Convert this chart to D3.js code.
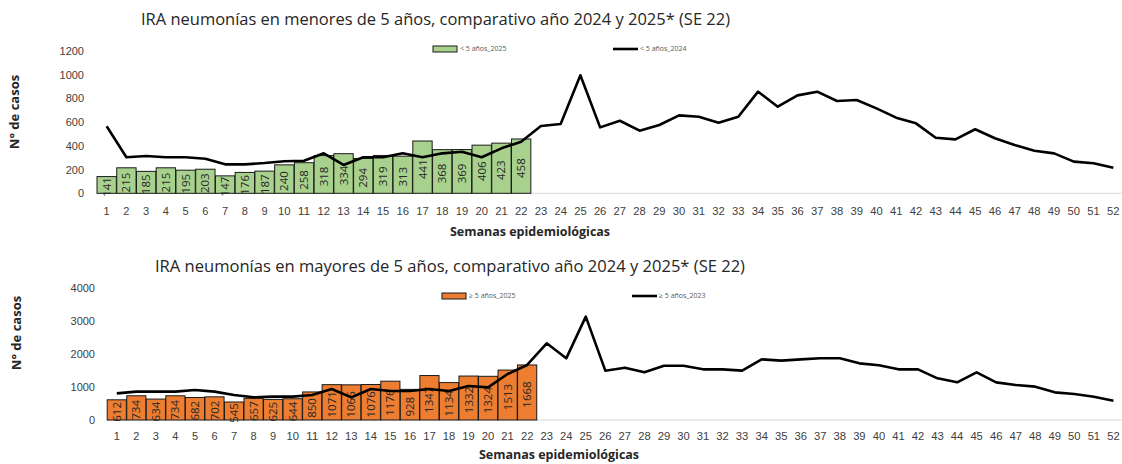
<!DOCTYPE html>
<html>
<head>
<meta charset="utf-8">
<script src="https://cdn.jsdelivr.net/npm/d3@7"></script>
<style>
  body { margin: 0; background: #fff; }
  svg { display: block; font-family: "Open Sans", "Noto Sans", sans-serif; }
</style>
</head>
<body>
<svg id="chart" width="1122" height="464"></svg>
<script>
const weeks = d3.range(1, 53);

// menores de 5 años
const under5_2025 = [141, 215, 185, 215, 195, 203, 147, 176, 187, 240, 258, 318, 334, 294, 319, 313, 441, 368, 369, 406, 423, 458];
const under5_2024 = [565, 304, 314, 304, 304, 292, 244, 244, 255, 270, 275, 337, 239, 304, 304, 337, 304, 337, 351, 304, 379, 435,
    567, 584, 995, 556, 612, 528, 576, 657, 646, 595, 646, 857, 730, 826, 857, 778, 787, 716, 638, 590, 469, 455, 540, 464,
    407, 359, 337, 267, 253, 216];

// mayores de 5 años
const over5_2025 = [612, 734, 634, 734, 682, 702, 545, 657, 625, 644, 850, 1071, 1066, 1076, 1176, 928, 1347, 1134, 1332, 1324, 1513, 1668];
const over5_2023 = [808, 859, 859, 859, 909, 859, 758, 687, 707, 707, 758, 939, 687, 939, 879, 879, 939, 879, 1030, 990, 1394, 1667,
    2323, 1869, 3131, 1495, 1586, 1444, 1646, 1646, 1535, 1535, 1495, 1838, 1798, 1838, 1869, 1869, 1717, 1657, 1535, 1535,
    1263, 1141, 1444, 1141, 1061, 1010, 838, 788, 707, 586];

const svg = d3.select('#chart');

function drawChart(cfg) {
    const g = svg.append('g');

    const x = d3.scaleBand().domain(weeks).range([cfg.x0, cfg.x1]).paddingInner(0.02).paddingOuter(0);
    const y = d3.scaleLinear().domain([0, cfg.yMax]).range([cfg.y0, cfg.y1]);

    // title
    g.append('text')
        .attr('x', cfg.titleX).attr('y', cfg.titleY)
        .attr('font-size', 16.5).attr('fill', '#262626')
        .attr('textLength', cfg.titleW).attr('lengthAdjust', 'spacingAndGlyphs')
        .text(cfg.title);

    // baseline
    g.append('line')
        .attr('x1', cfg.x0).attr('x2', cfg.x1)
        .attr('y1', y(0)).attr('y2', y(0))
        .attr('stroke', '#d9d9d9').attr('stroke-width', 1);

    // y axis
    const yAxis = g.append('g')
        .attr('transform', `translate(${cfg.yLabelX},0)`)
        .call(d3.axisLeft(y).tickValues(d3.range(0, cfg.yMax + 1, cfg.yStep)).tickFormat(d3.format('d')).tickSize(0).tickPadding(0));
    yAxis.select('.domain').remove();
    yAxis.selectAll('text').attr('font-size', 11).attr('fill', '#404040');

    // x axis
    const xAxis = g.append('g')
        .attr('transform', `translate(0,${cfg.xLabelY})`)
        .call(d3.axisBottom(x).tickSize(0).tickPadding(0));
    xAxis.select('.domain').remove();
    xAxis.selectAll('text').attr('font-size', 11).attr('fill', '#404040').attr('dy', '0.35em')
        .attr('textLength', d => d < 10 ? null : 12.5).attr('lengthAdjust', 'spacingAndGlyphs');

    // bars
    g.append('g').selectAll('rect')
        .data(cfg.bars)
        .join('rect')
        .attr('x', (d, i) => x(weeks[i]))
        .attr('width', x.bandwidth())
        .attr('y', d => y(d))
        .attr('height', d => y(0) - y(d))
        .attr('fill', cfg.barColor)
        .attr('stroke', '#1a1a1a')
        .attr('stroke-width', 1);

    // bar labels (rotated)
    g.append('g').selectAll('text')
        .data(cfg.bars)
        .join('text')
        .attr('transform', (d, i) => {
            const cx = x(weeks[i]) + x.bandwidth() / 2;
            const cy = (y(0) + y(d)) / 2 + 2;
            return `translate(${cx},${cy}) rotate(-90)`;
        })
        .attr('text-anchor', 'middle')
        .attr('dy', '0.35em')
        .attr('font-size', 11.5)
        .attr('fill', '#262626')
        .text(d => d);

    // line
    g.append('path')
        .datum(cfg.line)
        .attr('fill', 'none')
        .attr('stroke', '#000')
        .attr('stroke-width', 2.6)
        .attr('stroke-linejoin', 'round')
        .attr('d', d3.line()
            .x((d, i) => x(weeks[i]) + x.bandwidth() / 2)
            .y(d => y(d)));

    // axis titles
    g.append('text')
        .attr('transform', `translate(${cfg.yTitleX},${cfg.yTitleY}) rotate(-90)`)
        .attr('text-anchor', 'middle')
        .attr('font-size', 13).attr('font-weight', 'bold').attr('fill', '#262626')
        .text('N° de casos');
    g.append('text')
        .attr('x', cfg.xTitleX).attr('y', cfg.xTitleY)
        .attr('text-anchor', 'middle')
        .attr('font-size', 12.5).attr('font-weight', 'bold').attr('fill', '#262626')
        .text('Semanas epidemiológicas');

    // legend
    const lg = g.append('g').attr('font-size', 7).attr('fill', '#595959');
    lg.append('rect')
        .attr('x', cfg.legBarX).attr('y', cfg.legY - 3)
        .attr('width', 24).attr('height', 6)
        .attr('fill', cfg.barColor).attr('stroke', '#1a1a1a').attr('stroke-width', 1);
    lg.append('text').attr('x', cfg.legBarX + 27).attr('y', cfg.legY).attr('dy', '0.35em').text(cfg.barName);
    lg.append('line')
        .attr('x1', cfg.legLineX).attr('x2', cfg.legLineX + 25)
        .attr('y1', cfg.legY).attr('y2', cfg.legY)
        .attr('stroke', '#000').attr('stroke-width', 2.6);
    lg.append('text').attr('x', cfg.legLineX + 27).attr('y', cfg.legY).attr('dy', '0.35em').text(cfg.lineName);
}

drawChart({
    title: 'IRA neumonías en menores de 5 años, comparativo año 2024 y 2025* (SE 22)',
    titleX: 141, titleY: 25, titleW: 589,
    bars: under5_2025, line: under5_2024,
    barColor: '#a9d18e', barName: '< 5 años_2025', lineName: '< 5 años_2024',
    x0: 97, x1: 1123, y0: 193.3, y1: 51, yMax: 1200, yStep: 200,
    yLabelX: 84, xLabelY: 211.5,
    yTitleX: 19, yTitleY: 112, xTitleX: 530, xTitleY: 236,
    legBarX: 433, legLineX: 613, legY: 49
});

drawChart({
    title: 'IRA neumonías en mayores de 5 años, comparativo año 2024 y 2025* (SE 22)',
    titleX: 155, titleY: 272, titleW: 590,
    bars: over5_2025, line: over5_2023,
    barColor: '#ed7d31', barName: '≥ 5 años_2025', lineName: '≥ 5 años_2023',
    x0: 107.2, x1: 1123, y0: 420, y1: 288, yMax: 4000, yStep: 1000,
    yLabelX: 95, xLabelY: 436.5,
    yTitleX: 21, yTitleY: 333, xTitleX: 559, xTitleY: 459,
    legBarX: 442, legLineX: 632, legY: 296
});
</script>
</body>
</html>
